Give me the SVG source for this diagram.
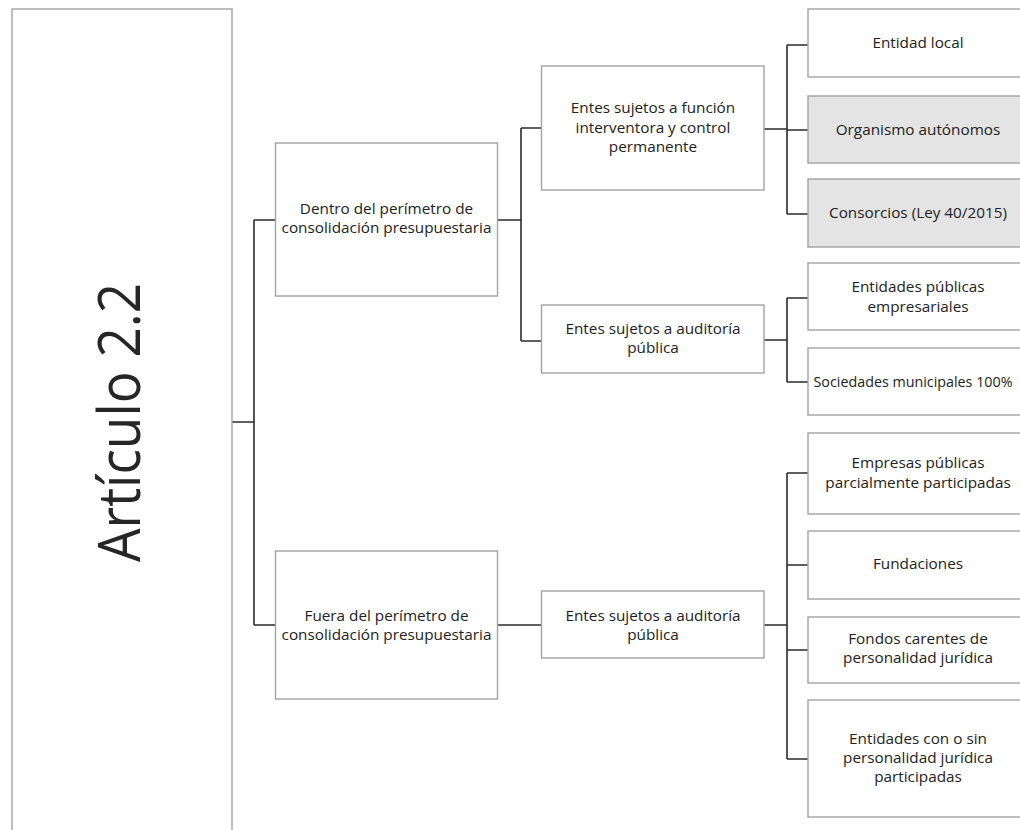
<svg xmlns="http://www.w3.org/2000/svg" width="1020" height="830" viewBox="0 0 1020 830">
<style>
.box{fill:#ffffff;stroke:#a3a3a3;stroke-width:1.4}
.gray{fill:#e4e4e4}
.t{font-family:"Open Sans","Noto Sans","Liberation Sans",sans-serif;font-size:15.3px;fill:#222222;text-anchor:middle}
.big{font-family:"Open Sans","Noto Sans","Liberation Sans",sans-serif;font-size:58px;fill:#262626;text-anchor:middle}
.c{fill:none;stroke:#2b2b2b;stroke-width:1.6}
</style>
<rect width="1020" height="830" fill="#ffffff"/>
<g id="connectors">
<path class="c" d="M232 422H254M254 220V625M254 220H275.5M254 625H275.5"/>
<path class="c" d="M497.5 220H521M521 128V341M521 128H541.5M521 341H541.5"/>
<path class="c" d="M764 129H787M787 45V214M787 45H808M787 130H808M787 214H808"/>
<path class="c" d="M764 340H787M787 298V382M787 298H808M787 382H810"/>
<path class="c" d="M497.5 625H541.5M764 625H787M787 473V759M787 473H808M787 565H808M787 650H808M787 759H808"/>
</g>
<g id="root">
<rect class="box" x="12" y="9" width="220" height="830"/>
<text class="big" transform="translate(139.5 422.5) rotate(-90)" textLength="279" lengthAdjust="spacingAndGlyphs">Artículo 2.2</text>
</g>
<g id="dentro">
<rect class="box" x="275.5" y="143" width="222" height="153"/>
<text class="t" x="386.5" y="214">Dentro del perímetro de</text>
<text class="t" x="386.5" y="233">consolidación presupuestaria</text>
</g>
<g id="fuera">
<rect class="box" x="275.5" y="551" width="222" height="148"/>
<text class="t" x="386.5" y="621">Fuera del perímetro de</text>
<text class="t" x="386.5" y="640">consolidación presupuestaria</text>
</g>
<g id="entes-funcion">
<rect class="box" x="541.5" y="66" width="222.5" height="124"/>
<text class="t" x="653" y="113">Entes sujetos a función</text>
<text class="t" x="653" y="133">interventora y control</text>
<text class="t" x="653" y="152">permanente</text>
</g>
<g id="entes-auditoria-1">
<rect class="box" x="541.5" y="305" width="222.5" height="68"/>
<text class="t" x="653" y="334">Entes sujetos a auditoría</text>
<text class="t" x="653" y="353">pública</text>
</g>
<g id="entes-auditoria-2">
<rect class="box" x="541.5" y="591" width="222.5" height="67"/>
<text class="t" x="653" y="621">Entes sujetos a auditoría</text>
<text class="t" x="653" y="640">pública</text>
</g>
<g id="entidad-local">
<rect class="box" x="808" y="9" width="222" height="68"/>
<text class="t" x="918" y="48">Entidad local</text>
</g>
<g id="organismo">
<rect class="box gray" x="808" y="96" width="222" height="67"/>
<text class="t" x="918" y="135">Organismo autónomos</text>
</g>
<g id="consorcios">
<rect class="box gray" x="808" y="179" width="222" height="68"/>
<text class="t" x="918" y="218">Consorcios (Ley 40/2015)</text>
</g>
<g id="entidades-publicas">
<rect class="box" x="808" y="263" width="222" height="67"/>
<text class="t" x="918" y="292">Entidades públicas</text>
<text class="t" x="918" y="312">empresariales</text>
</g>
<g id="sociedades">
<rect class="box" x="808" y="348" width="222" height="67"/>
<text class="t" x="913" y="387" style="font-size:14.3px">Sociedades municipales 100%</text>
</g>
<g id="empresas">
<rect class="box" x="808" y="433" width="222" height="81"/>
<text class="t" x="918" y="468">Empresas públicas</text>
<text class="t" x="918" y="488">parcialmente participadas</text>
</g>
<g id="fundaciones">
<rect class="box" x="808" y="531" width="222" height="68"/>
<text class="t" x="918" y="569">Fundaciones</text>
</g>
<g id="fondos">
<rect class="box" x="808" y="617" width="222" height="66"/>
<text class="t" x="918" y="644">Fondos carentes de</text>
<text class="t" x="918" y="663">personalidad jurídica</text>
</g>
<g id="entidades-con-sin">
<rect class="box" x="808" y="700" width="222" height="117"/>
<text class="t" x="918" y="744">Entidades con o sin</text>
<text class="t" x="918" y="763">personalidad jurídica</text>
<text class="t" x="918" y="782">participadas</text>
</g>
</svg>
